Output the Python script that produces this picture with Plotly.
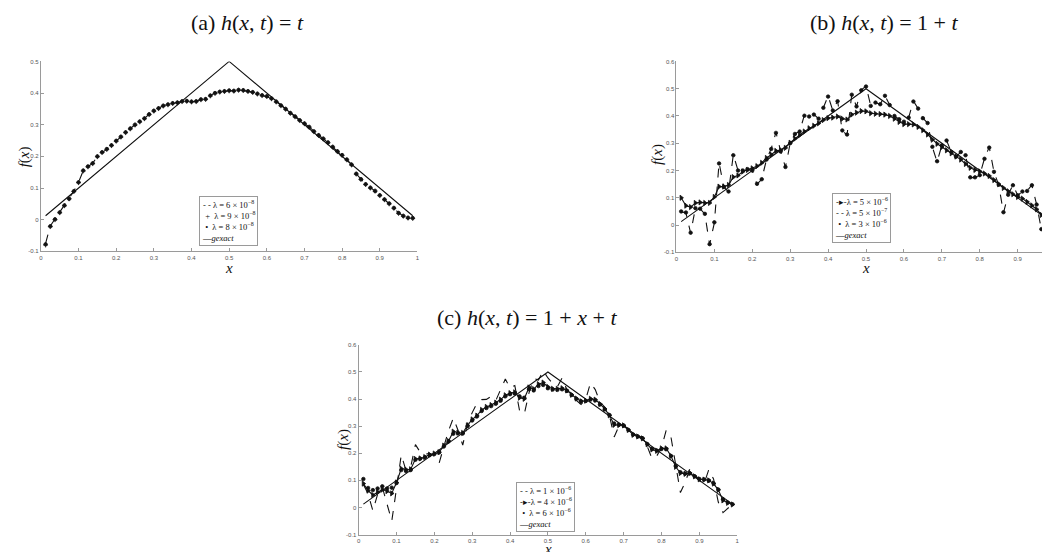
import plotly.graph_objects as go

# ---------------- data ----------------
x_grid = [round(i / 80, 4) for i in range(1, 80)]

gexact_x = [0.0125, 0.5, 0.9875]
gexact_y = [0.0125, 0.5, 0.0125]

# Panel (a) h(x,t)=t
a_lam6e8 = [-0.075, -0.02, 0.002, 0.024, 0.045, 0.067, 0.09, 0.118, 0.155, 0.168,
            0.178, 0.2, 0.213, 0.223, 0.235, 0.249, 0.262, 0.276, 0.288, 0.3,
            0.31, 0.32, 0.333, 0.344, 0.352, 0.36, 0.364, 0.368, 0.37, 0.374,
            0.375, 0.373, 0.374, 0.38, 0.381, 0.392, 0.4, 0.404, 0.406, 0.408,
            0.407, 0.41, 0.409, 0.406, 0.403, 0.398, 0.393, 0.39, 0.383, 0.373,
            0.361, 0.35, 0.337, 0.326, 0.314, 0.304, 0.293, 0.279, 0.267, 0.256,
            0.244, 0.23, 0.216, 0.204, 0.19, 0.174, 0.145, 0.128, 0.112, 0.101,
            0.091, 0.077, 0.064, 0.051, 0.037, 0.021, 0.012, 0.006, 0.005]
a_lam9e8 = [-0.08, -0.022, 0.0, 0.022, 0.044, 0.066, 0.089, 0.117, 0.154, 0.167,
            0.177, 0.199, 0.212, 0.222, 0.234, 0.248, 0.261, 0.275, 0.287, 0.299,
            0.309, 0.319, 0.332, 0.343, 0.351, 0.359, 0.363, 0.367, 0.369, 0.373,
            0.374, 0.372, 0.373, 0.379, 0.38, 0.391, 0.399, 0.403, 0.405, 0.407,
            0.406, 0.409, 0.408, 0.405, 0.402, 0.397, 0.392, 0.389, 0.382, 0.372,
            0.36, 0.349, 0.336, 0.325, 0.313, 0.303, 0.292, 0.278, 0.266, 0.255,
            0.243, 0.229, 0.215, 0.203, 0.189, 0.173, 0.144, 0.127, 0.111, 0.1,
            0.09, 0.076, 0.063, 0.05, 0.036, 0.02, 0.011, 0.005, 0.004]
a_lam8e8 = [-0.078, -0.021, 0.001, 0.023, 0.045, 0.066, 0.09, 0.118, 0.155, 0.168,
            0.178, 0.2, 0.213, 0.223, 0.235, 0.249, 0.262, 0.276, 0.288, 0.3,
            0.31, 0.32, 0.333, 0.344, 0.352, 0.36, 0.364, 0.368, 0.37, 0.374,
            0.375, 0.373, 0.374, 0.38, 0.381, 0.392, 0.4, 0.404, 0.406, 0.408,
            0.407, 0.41, 0.409, 0.406, 0.403, 0.398, 0.393, 0.39, 0.383, 0.373,
            0.361, 0.35, 0.337, 0.326, 0.314, 0.304, 0.293, 0.279, 0.267, 0.256,
            0.244, 0.23, 0.216, 0.204, 0.19, 0.174, 0.145, 0.128, 0.112, 0.101,
            0.091, 0.077, 0.064, 0.051, 0.037, 0.021, 0.012, 0.006, 0.005]

# Panel (b) h(x,t)=1+t
b_lam5e6 = [0.1, 0.071, 0.066, 0.081, 0.083, 0.081, 0.081, 0.103, 0.141, 0.141,
            0.147, 0.176, 0.182, 0.196, 0.202, 0.208, 0.216, 0.228, 0.246, 0.258,
            0.272, 0.275, 0.283, 0.302, 0.317, 0.33, 0.343, 0.355, 0.364, 0.373,
            0.385, 0.392, 0.394, 0.398, 0.39, 0.387, 0.405, 0.412, 0.418, 0.417,
            0.41, 0.408, 0.407, 0.405, 0.4, 0.39, 0.378, 0.37, 0.37, 0.369,
            0.36, 0.348, 0.332, 0.313, 0.298, 0.286, 0.274, 0.263, 0.251, 0.24,
            0.224, 0.21, 0.202, 0.197, 0.189, 0.18, 0.165, 0.15, 0.136, 0.124,
            0.113, 0.103, 0.097, 0.085, 0.072, 0.058, 0.037, 0.021, 0.008]
b_lam5e7 = [0.048, 0.045, -0.03, 0.062, 0.06, 0.04, -0.072, 0.008, 0.228, 0.14,
            0.122, 0.258, 0.2, 0.2, 0.205, 0.2, 0.15, 0.168, 0.24, 0.28,
            0.34, 0.27, 0.212, 0.3, 0.335, 0.343, 0.403, 0.398, 0.406, 0.39,
            0.43, 0.473, 0.42, 0.455, 0.346, 0.33, 0.48, 0.435, 0.495, 0.51,
            0.437, 0.449, 0.443, 0.475, 0.44, 0.4, 0.388, 0.378, 0.394, 0.455,
            0.427, 0.392, 0.374, 0.286, 0.232, 0.292, 0.31, 0.268, 0.25, 0.268,
            0.256, 0.174, 0.174, 0.183, 0.244, 0.286, 0.195, 0.147, 0.045, 0.111,
            0.147, 0.109, 0.123, 0.125, 0.147, 0.075, -0.016, -0.022, 0.01]
b_lam3e6 = [0.05, 0.046, -0.028, 0.062, 0.06, 0.041, -0.07, 0.01, 0.226, 0.14,
            0.123, 0.256, 0.2, 0.2, 0.205, 0.2, 0.151, 0.168, 0.24, 0.279,
            0.338, 0.27, 0.213, 0.3, 0.334, 0.343, 0.401, 0.398, 0.405, 0.39,
            0.43, 0.471, 0.42, 0.454, 0.347, 0.332, 0.478, 0.435, 0.494, 0.508,
            0.437, 0.449, 0.443, 0.474, 0.44, 0.4, 0.388, 0.379, 0.394, 0.453,
            0.427, 0.392, 0.374, 0.287, 0.234, 0.292, 0.31, 0.268, 0.251, 0.268,
            0.256, 0.175, 0.175, 0.183, 0.243, 0.284, 0.195, 0.148, 0.047, 0.111,
            0.146, 0.109, 0.123, 0.125, 0.146, 0.075, -0.015, -0.02, 0.01]

# Panel (c) h(x,t)=1+x+t
c_lam1e6 = [0.085, 0.05, -0.012, 0.048, 0.075, 0.015, -0.05, 0.07, 0.194, 0.137,
            0.15, 0.232, 0.204, 0.196, 0.2, 0.19, 0.163, 0.225, 0.283, 0.33,
            0.285, 0.23, 0.31, 0.35, 0.385, 0.398, 0.399, 0.41, 0.395, 0.435,
            0.474, 0.441, 0.45, 0.358, 0.344, 0.423, 0.476, 0.47, 0.505, 0.478,
            0.458, 0.446, 0.478, 0.435, 0.418, 0.395, 0.38, 0.4, 0.46, 0.435,
            0.39, 0.37, 0.34, 0.26, 0.3, 0.308, 0.285, 0.268, 0.263, 0.262,
            0.225, 0.18, 0.19, 0.22, 0.285, 0.26, 0.16, 0.055, 0.092, 0.143,
            0.124, 0.099, 0.087, 0.14, 0.105, 0.02, -0.019, -0.002, 0.012]
c_lam4e6 = [0.088, 0.062, 0.046, 0.057, 0.066, 0.06, 0.052, 0.092, 0.143, 0.14,
            0.141, 0.179, 0.181, 0.186, 0.195, 0.199, 0.204, 0.228, 0.245, 0.28,
            0.276, 0.275, 0.303, 0.325, 0.339, 0.36, 0.371, 0.378, 0.387, 0.398,
            0.414, 0.422, 0.425, 0.405, 0.401, 0.443, 0.437, 0.455, 0.461, 0.445,
            0.438, 0.438, 0.44, 0.432, 0.416, 0.402, 0.392, 0.394, 0.401, 0.398,
            0.382, 0.364, 0.34, 0.305, 0.304, 0.303, 0.286, 0.268, 0.262, 0.255,
            0.233, 0.214, 0.209, 0.218, 0.218, 0.19, 0.15, 0.127, 0.124, 0.127,
            0.115, 0.104, 0.103, 0.1, 0.088, 0.065, 0.026, 0.017, 0.011]
c_lam6e6 = [0.105, 0.072, 0.064, 0.07, 0.078, 0.07, 0.073, 0.09, 0.138, 0.135,
            0.138, 0.176, 0.18, 0.185, 0.193, 0.197, 0.203, 0.225, 0.244, 0.272,
            0.274, 0.273, 0.3, 0.321, 0.336, 0.356, 0.367, 0.374, 0.383, 0.394,
            0.41, 0.418, 0.421, 0.41, 0.405, 0.436, 0.432, 0.448, 0.452, 0.44,
            0.435, 0.434, 0.436, 0.43, 0.415, 0.401, 0.392, 0.393, 0.398, 0.395,
            0.38, 0.362, 0.341, 0.31, 0.305, 0.302, 0.286, 0.269, 0.262, 0.255,
            0.234, 0.216, 0.21, 0.216, 0.215, 0.19, 0.153, 0.13, 0.125, 0.126,
            0.115, 0.105, 0.103, 0.099, 0.089, 0.066, 0.03, 0.018, 0.012]

# ---------------- figure ----------------
# The page body has an 8px margin, so the figure is drawn 8px in from the window corner.
OFF = 8
W, H = 1050 - OFF, 552 - OFF
SERIF = "Liberation Serif"
BLACK = "#111111"

def px_x(p):
    return (p - OFF) / W

def px_y(p):
    return 1 - (p - OFF) / H

fig = go.Figure()

def add_line(x, y, ax, dash="solid", symbol=None, msize=4, mode=None):
    if mode is None:
        mode = "lines+markers" if symbol else "lines"
    fig.add_trace(go.Scatter(
        x=x, y=y, mode=mode, showlegend=False,
        xaxis="x" + ax, yaxis="y" + ax,
        line=dict(color=BLACK, width=1.1, dash=dash),
        marker=dict(color=BLACK, size=msize, symbol=symbol or "circle",
                    line=dict(color=BLACK, width=0.8)),
    ))

# (a)
add_line(x_grid, a_lam6e8, "", dash="dash")
add_line(x_grid, a_lam9e8, "", symbol="cross-thin", msize=3.5, mode="markers")
add_line(x_grid, a_lam8e8, "", symbol="circle", msize=3.5, mode="markers")
add_line(gexact_x, gexact_y, "")
# (b)
add_line(x_grid, b_lam5e6, "2", symbol="triangle-right", msize=4.5)
add_line(x_grid, b_lam5e7, "2", dash="dash")
add_line(x_grid, b_lam3e6, "2", symbol="circle", msize=3.5, mode="markers")
add_line(gexact_x, gexact_y, "2")
# (c)
add_line(x_grid, c_lam1e6, "3", dash="dash")
add_line(x_grid, c_lam4e6, "3", symbol="triangle-right", msize=4.5)
add_line(x_grid, c_lam6e6, "3", symbol="circle", msize=3.5, mode="markers")
add_line(gexact_x, gexact_y, "3")

axis_common = dict(showline=True, linecolor="#9a9a9a", linewidth=1, mirror=False,
                   showgrid=False, zeroline=False, ticks="inside", ticklen=3,
                   tickcolor="#9a9a9a", tickfont=dict(family="Liberation Sans", size=6, color="#555"))

xticks = [0, 0.1, 0.2, 0.3, 0.4, 0.5, 0.6, 0.7, 0.8, 0.9, 1]
xtick_text = ["0", "0.1", "0.2", "0.3", "0.4", "0.5", "0.6", "0.7", "0.8", "0.9", "1"]
yticks = [-0.1, 0, 0.1, 0.2, 0.3, 0.4, 0.5, 0.6]
ytick_text = ["-0.1", "0", "0.1", "0.2", "0.3", "0.4", "0.5", "0.6"]

panels = {
    "": dict(x0=39, x1=417, y0=59, y1=251, xr=[0, 1], yr=[-0.1, 0.5]),
    "2": dict(x0=677, x1=1050, y0=59, y1=252, xr=[0, 0.98], yr=[-0.1, 0.6]),
    "3": dict(x0=358, x1=738, y0=345.6, y1=537.4, xr=[0, 1], yr=[-0.1, 0.6]),
}

layout = dict(width=W, height=H, margin=dict(l=0, r=0, t=0, b=0),
              plot_bgcolor="white", paper_bgcolor="white", showlegend=False)
for k, p in panels.items():
    layout["xaxis" + k] = dict(axis_common, domain=[px_x(p["x0"]), min(1, px_x(p["x1"]))],
                               range=p["xr"], anchor="y" + k,
                               tickvals=xticks, ticktext=xtick_text)
    layout["yaxis" + k] = dict(axis_common, domain=[px_y(p["y1"]), px_y(p["y0"])],
                               range=p["yr"], anchor="x" + k,
                               tickvals=yticks, ticktext=ytick_text)
fig.update_layout(**layout)

# ---------------- text ----------------
def lam(m, e):
    return "λ = %d × 10<sup>−%d</sup>" % (m, e)

SP = "&nbsp;"
anns = [
    dict(text="(a)" + SP + "<i>h</i>(<i>x</i>," + SP + "<i>t</i>)" + SP + "=" + SP + "<i>t</i>",
         x=px_x(246), y=px_y(20), size=22, ya="middle"),
    dict(text="(b)" + SP + "<i>h</i>(<i>x</i>," + SP + "<i>t</i>)" + SP + "=" + SP + "1" + SP + "+" + SP + "<i>t</i>",
         x=px_x(886), y=px_y(20), size=22, ya="middle"),
    dict(text="(c)" + SP + "<i>h</i>(<i>x</i>," + SP + "<i>t</i>)" + SP + "=" + SP + "1" + SP + "+" + SP + "<i>x</i>" + SP + "+" + SP + "<i>t</i>",
         x=px_x(527), y=px_y(318), size=22, ya="middle"),
    dict(text="<i>x</i>", x=px_x(228), y=px_y(268), size=15, ya="middle"),
    dict(text="<i>x</i>", x=px_x(867), y=px_y(268), size=15, ya="middle"),
    dict(text="<i>x</i>", x=px_x(548), y=px_y(542), size=15, ya="top"),
]
for a in anns:
    fig.add_annotation(text=a["text"], x=a["x"], y=a["y"], xref="paper", yref="paper",
                       showarrow=False, xanchor="center", yanchor=a["ya"],
                       font=dict(family=SERIF, size=a["size"], color=BLACK))
for (xx, yy) in [(22, 155), (658, 153), (343, 441)]:
    fig.add_annotation(text="<i>f</i>(<i>x</i>)", x=px_x(xx), y=px_y(yy), xref="paper", yref="paper",
                       showarrow=False, textangle=-90, xanchor="center", yanchor="middle",
                       font=dict(family=SERIF, size=15, color=BLACK))

# legends (one boxed text block per panel)
legend_a = ["- - " + lam(6, 8), " + " + SP + lam(9, 8), " • " + SP + lam(8, 8), "—<i>gexact</i>"]
legend_b = ["-▸-" + lam(5, 6), "- - " + lam(5, 7), " • " + SP + lam(3, 6), "—<i>gexact</i>"]
legend_c = ["- - " + lam(1, 6), "-▸-" + lam(4, 6), " • " + SP + lam(6, 6), "—<i>gexact</i>"]
for lines, (lx, ly) in [(legend_a, (198, 195)), (legend_b, (833, 192)), (legend_c, (516, 484))]:
    fig.add_annotation(text="<br>".join(lines), x=px_x(lx), y=px_y(ly), xref="paper", yref="paper",
                       showarrow=False, xanchor="left", yanchor="top", align="left",
                       bgcolor="white", bordercolor="#9a9a9a", borderwidth=1, borderpad=2,
                       font=dict(family=SERIF, size=8.5, color=BLACK))

fig.write_html("out.html")
